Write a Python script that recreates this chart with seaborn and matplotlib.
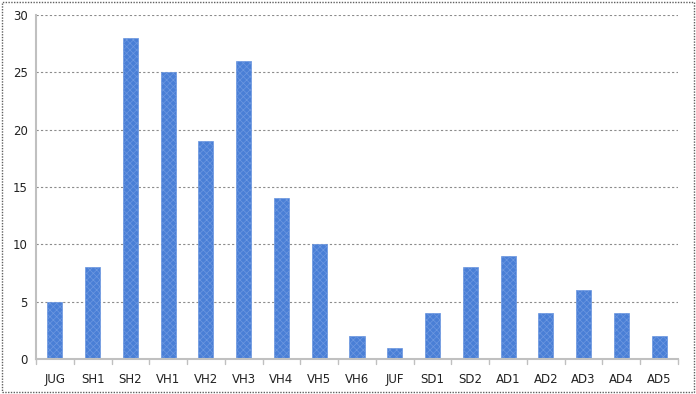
import matplotlib
matplotlib.use('Agg')
import matplotlib.pyplot as plt
import seaborn as sns
import pandas as pd
from matplotlib.patches import Rectangle

categories = ['JUG', 'SH1', 'SH2', 'VH1', 'VH2', 'VH3', 'VH4', 'VH5', 'VH6',
              'JUF', 'SD1', 'SD2', 'AD1', 'AD2', 'AD3', 'AD4', 'AD5']
values = [5, 8, 28, 25, 19, 26, 14, 10, 2, 1, 4, 8, 9, 4, 6, 4, 2]
y_ticks = [0, 5, 10, 15, 20, 25, 30]

sns.set_style('white')
plt.rcParams['font.family'] = ['DejaVu Sans']
plt.rcParams['hatch.linewidth'] = 0.5

df = pd.DataFrame({'cat': categories, 'val': values})

fig = plt.figure(figsize=(6.96, 3.94), dpi=100)
ax = fig.add_axes([36 / 696, 35 / 394, 642 / 696, 344 / 394])

sns.barplot(data=df, x='cat', y='val', ax=ax, color='#4a7fd6',
            width=0.4, saturation=1, edgecolor='#3a6cc8', linewidth=0.5)
# light checker texture like the original fill
for p in ax.patches:
    p.set_hatch('xxxxx')
    p.set_edgecolor('#6d98e0')

ax.set_ylim(0, 30)
ax.set_xlim(-0.5, len(categories) - 0.5)
ax.set_yticks(y_ticks)
ax.set_yticklabels([str(t) for t in y_ticks], fontsize=8.5, color='#222222')
ax.tick_params(axis='x', labelsize=8.5, labelcolor='#222222', length=0, pad=10)
ax.tick_params(axis='y', length=0, pad=6)
ax.set_xlabel('')
ax.set_ylabel('')

for t in y_ticks[1:]:
    ax.axhline(t, color='#8c8c8c', linestyle=(0, (2, 2)), linewidth=0.8, zorder=0)

# category separator tick marks
for i in range(len(categories) + 1):
    ax.plot([i - 0.5, i - 0.5], [0, -0.4], color='#c0c0c0', linewidth=1,
            clip_on=False)

for side in ['top', 'right']:
    ax.spines[side].set_visible(False)
ax.spines['left'].set_color('#c0c0c0')
ax.spines['left'].set_linewidth(1.5)
ax.spines['bottom'].set_color('#c0c0c0')
ax.spines['bottom'].set_linewidth(1.5)

# dashed frame round the whole chart
fig.patches.append(Rectangle((0.003, 0.004), 0.994, 0.992, transform=fig.transFigure,
                             fill=False, edgecolor='#606060', linewidth=1,
                             linestyle=(0, (1, 1))))

fig.savefig('out.png', dpi=100)
